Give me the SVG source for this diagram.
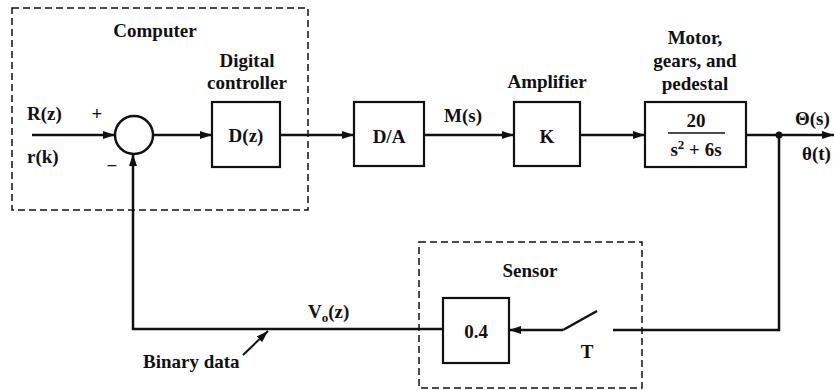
<svg xmlns="http://www.w3.org/2000/svg" width="834" height="390" viewBox="0 0 834 390">
<style>
text{font-family:"Liberation Serif","Times New Roman",serif;font-size:19px;font-weight:bold;fill:#111}
.m{text-anchor:middle}
.blk{fill:#fff;stroke:#111;stroke-width:2.2}
.dash{fill:none;stroke:#111;stroke-width:1.5;stroke-dasharray:7 4}
.ln{fill:none;stroke:#111;stroke-width:2.5}
</style>
<defs>
<marker id="ah" viewBox="0 0 12 8" refX="12" refY="4" markerWidth="12" markerHeight="8" markerUnits="userSpaceOnUse" orient="auto">
<path d="M0,0 L12,4 L0,8 Z" fill="#111"/>
</marker>
</defs>
<rect width="834" height="390" fill="#fff"/>

<g id="computer">
<rect class="dash" x="12" y="8" width="296" height="202"/>
<text class="m" x="155" y="37">Computer</text>
</g>
<g id="sensor">
<rect class="dash" x="419" y="242" width="223" height="146"/>
<text class="m" x="530" y="277">Sensor</text>
</g>

<g id="connectors">
<line class="ln" x1="32" y1="135" x2="115" y2="135" marker-end="url(#ah)"/>
<line class="ln" x1="153" y1="135" x2="212" y2="135" marker-end="url(#ah)"/>
<line class="ln" x1="280" y1="135" x2="354" y2="135" marker-end="url(#ah)"/>
<line class="ln" x1="424" y1="135" x2="514" y2="135" marker-end="url(#ah)"/>
<line class="ln" x1="580" y1="135" x2="645" y2="135" marker-end="url(#ah)"/>
<line class="ln" x1="746" y1="135" x2="834" y2="135" marker-end="url(#ah)"/>
<polyline class="ln" points="779,135 779,330 613,330"/>
<line class="ln" x1="597" y1="311" x2="563" y2="330"/>
<line class="ln" x1="563" y1="330" x2="509" y2="330" marker-end="url(#ah)"/>
<polyline class="ln" points="443,329 133,329 133,154" marker-end="url(#ah)"/>
<line x1="243" y1="355" x2="268" y2="331" stroke="#111" stroke-width="2" marker-end="url(#ah)"/>
<circle cx="779" cy="135" r="3.5" fill="#111"/>
</g>

<g id="sum">
<circle cx="134" cy="135" r="19" fill="#fff" stroke="#111" stroke-width="2.5"/>
<text x="27" y="120">R(z)</text>
<text x="27" y="163">r(k)</text>
<text class="m" x="97" y="120">+</text>
<text class="m" x="112" y="172">−</text>
</g>

<g id="controller">
<rect class="blk" x="212" y="102" width="68" height="65"/>
<text class="m" x="246" y="142">D(z)</text>
<text class="m" x="247" y="67">Digital</text>
<text class="m" x="247" y="89">controller</text>
</g>

<g id="da">
<rect class="blk" x="354" y="102" width="70" height="64"/>
<text class="m" x="389" y="143">D/A</text>
<text class="m" x="463" y="122">M(s)</text>
</g>

<g id="amplifier">
<rect class="blk" x="514" y="102" width="66" height="64"/>
<text class="m" x="547" y="143">K</text>
<text class="m" x="547" y="88">Amplifier</text>
</g>

<g id="plant">
<rect class="blk" x="645" y="102" width="101" height="65"/>
<text class="m" x="696" y="127">20</text>
<line x1="668" y1="133" x2="725" y2="133" stroke="#111" stroke-width="1.5"/>
<text class="m" x="696" y="156">s<tspan dy="-7" font-size="13">2</tspan><tspan dy="7"> + 6s</tspan></text>
<text class="m" x="695" y="44">Motor,</text>
<text class="m" x="695" y="67">gears, and</text>
<text class="m" x="695" y="90">pedestal</text>
</g>

<g id="output">
<text x="795" y="125">Θ(s)</text>
<text x="802" y="160">θ(t)</text>
</g>

<g id="gain">
<rect class="blk" x="443" y="298" width="66" height="65"/>
<text class="m" x="476" y="338">0.4</text>
<text class="m" x="587" y="358">T</text>
</g>

<g id="labels">
<text x="308" y="318">V<tspan dy="4" font-size="13">o</tspan><tspan dy="-4">(z)</tspan></text>
<text x="143" y="368">Binary data</text>
</g>
</svg>
